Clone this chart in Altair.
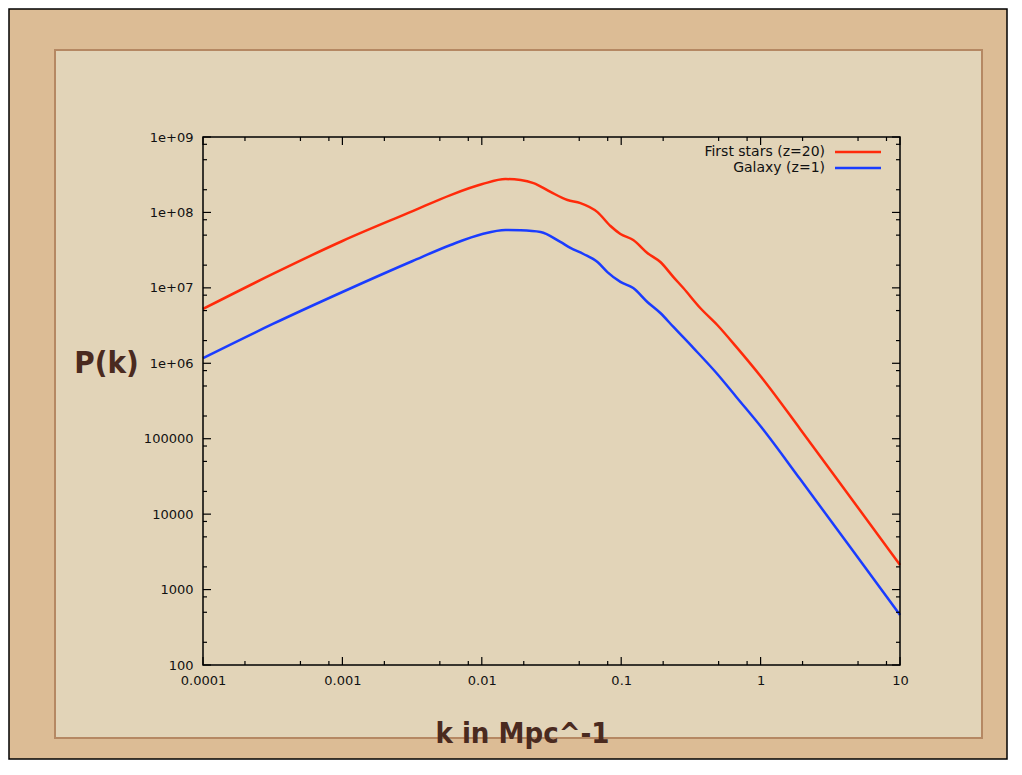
import altair as alt
import pandas as pd

series = ["First stars (z=20)", "Galaxy (z=1)"]
colors = ["#ff2a0a", "#1a3cff"]

red_k = [1e-4, 3.17e-4, 1e-3, 3.19e-3, 5.97e-3, 1.01e-2, 1.48e-2, 1.90e-2, 2.35e-2,
         3.11e-2, 4.12e-2, 5.10e-2, 6.76e-2, 8.38e-2, 9.87e-2, 0.122, 0.154, 0.191,
         0.237, 0.279, 0.369, 0.489, 0.679, 1.01, 1.92, 4.39, 10]
red_p = [5.25e6, 1.53e7, 4.18e7, 1.04e8, 1.70e8, 2.38e8, 2.77e8, 2.69e8, 2.45e8,
         1.87e8, 1.46e8, 1.33e8, 1.01e8, 6.6e7, 5.18e7, 4.31e7, 2.90e7, 2.20e7,
         1.39e7, 9.95e6, 5.41e6, 3.22e6, 1.60e6, 6.58e5, 1.35e5, 1.69e4, 2.12e3]

blue_k = [1e-4, 3.17e-4, 1e-3, 3.19e-3, 5.97e-3, 1.01e-2, 1.48e-2, 1.90e-2, 2.64e-2,
          3.66e-2, 4.32e-2, 5.36e-2, 6.76e-2, 7.96e-2, 9.87e-2, 0.122, 0.154, 0.191,
          0.237, 0.329, 0.489, 0.679, 1.01, 1.92, 4.39, 10]
blue_p = [1.17e6, 3.32e6, 8.81e6, 2.27e7, 3.70e7, 5.18e7, 5.85e7, 5.8e7, 5.51e7,
          4.06e7, 3.38e7, 2.81e7, 2.20e7, 1.62e7, 1.20e7, 9.95e6, 6.50e6, 4.64e6,
          3.03e6, 1.60e6, 7.21e5, 3.47e5, 1.43e5, 2.92e4, 3.66e3, 460]

x_ticks = [1e-4, 1e-3, 1e-2, 1e-1, 1, 10]
x_tick_labels = ["0.0001", "0.001", "0.01", "0.1", "1", "10"]
y_ticks = [1e2, 1e3, 1e4, 1e5, 1e6, 1e7, 1e8, 1e9]
y_tick_labels = ["100", "1000", "10000", "100000", "1e+06", "1e+07", "1e+08", "1e+09"]
minor_mult = [2, 5, 8]
x_minor = [m * 10.0 ** e for e in range(-4, 1) for m in minor_mult]
y_minor = [m * 10.0 ** e for e in range(2, 9) for m in minor_mult]

W, H = 697, 528
PAD = {"left": 195, "top": 129, "right": 108, "bottom": 95}

df = pd.concat([
    pd.DataFrame({"k": red_k, "P": red_p, "series": series[0]}),
    pd.DataFrame({"k": blue_k, "P": blue_p, "series": series[1]}),
])

xscale = alt.Scale(type="log", domain=[1e-4, 10], nice=False)
yscale = alt.Scale(type="log", domain=[100, 1e9], nice=False)

xlab_expr = "[" + ",".join("'%s'" % s for s in x_tick_labels) + "][round(log(datum.value)/LN10)+4]"
ylab_expr = "[" + ",".join("'%s'" % s for s in y_tick_labels) + "][round(log(datum.value)/LN10)-2]"

title_font = "DejaVu Sans Condensed, sans-serif"
brown = "#4a2a1f"

xaxis = alt.Axis(values=x_ticks, labelExpr=xlab_expr, ticks=False, domain=False, grid=False,
                 labelFont="DejaVu Sans", labelFontSize=13, labelColor="#111111",
                 labelPadding=9, labelFlush=False, labelOverlap=False, zindex=2,
                 title="k in Mpc^-1", titleFont=title_font, titleFontSize=29,
                 titleFontWeight="bold", titleColor=brown, titleX=319, titleY=77,
                 titleAlign="center", titleBaseline="alphabetic")
yaxis = alt.Axis(values=y_ticks, labelExpr=ylab_expr, ticks=False, domain=False, grid=False,
                 labelFont="DejaVu Sans", labelFontSize=13, labelColor="#111111",
                 labelPadding=10, labelFlush=False, labelOverlap=False, zindex=2,
                 title="P(k)", titleFont=title_font, titleFontSize=31,
                 titleFontWeight="bold", titleColor=brown, titleAngle=0,
                 titleX=-97, titleY=226, titleAlign="center", titleBaseline="middle")

dummy = alt.Data(values=[{}])

outer = alt.Chart(dummy).mark_rect(fill="#dcbc95", stroke="#000000", strokeWidth=1.5).encode(
    x=alt.value(-194), x2=alt.value(804), y=alt.value(-128), y2=alt.value(622))
paper = alt.Chart(dummy).mark_rect(fill="#e2d4b8", stroke="#b58863", strokeWidth=2).encode(
    x=alt.value(-148), x2=alt.value(779), y=alt.value(-87), y2=alt.value(601))
frame = alt.Chart(dummy).mark_rect(fill="transparent", stroke="#000000", strokeWidth=1.5).encode(
    x=alt.value(0), x2=alt.value(W), y=alt.value(0), y2=alt.value(H))

lines = alt.Chart(df).mark_line(strokeWidth=2.5, interpolate="monotone").encode(
    x=alt.X("k:Q", scale=xscale, axis=xaxis),
    y=alt.Y("P:Q", scale=yscale, axis=yaxis),
    color=alt.Color("series:N", scale=alt.Scale(domain=series, range=colors), legend=None),
)

def xticks(vals, length):
    d = pd.DataFrame({"k": vals})
    bot = alt.Chart(d).mark_rule(color="black", strokeWidth=1.2).encode(
        x=alt.X("k:Q", scale=xscale, axis=xaxis), y=alt.value(H), y2=alt.value(H - length))
    top = alt.Chart(d).mark_rule(color="black", strokeWidth=1.2).encode(
        x=alt.X("k:Q", scale=xscale, axis=xaxis), y=alt.value(0), y2=alt.value(length))
    return [bot, top]

def yticks(vals, length):
    d = pd.DataFrame({"P": vals})
    left = alt.Chart(d).mark_rule(color="black", strokeWidth=1.2).encode(
        y=alt.Y("P:Q", scale=yscale, axis=yaxis), x=alt.value(0), x2=alt.value(length))
    right = alt.Chart(d).mark_rule(color="black", strokeWidth=1.2).encode(
        y=alt.Y("P:Q", scale=yscale, axis=yaxis), x=alt.value(W), x2=alt.value(W - length))
    return [left, right]

tick_layers = xticks(x_ticks, 8) + xticks(x_minor, 4) + yticks(y_ticks, 8) + yticks(y_minor, 4)

legend_layers = []
for i, (name, col) in enumerate(zip(series, colors)):
    yy = 15 + 16 * i
    legend_layers.append(alt.Chart(dummy).mark_text(
        align="right", baseline="middle", font="DejaVu Sans", fontSize=14, color="#111111").encode(
        x=alt.value(622), y=alt.value(yy), text=alt.value(name)))
    legend_layers.append(alt.Chart(dummy).mark_rule(color=col, strokeWidth=2.5).encode(
        x=alt.value(632), x2=alt.value(678), y=alt.value(yy)))

chart = alt.layer(outer, paper, lines, *tick_layers, frame, *legend_layers).properties(
    width=W, height=H, padding=PAD, autosize=alt.AutoSizeParams(type="none"),
    background="#ffffff",
).configure_view(stroke=None)

chart.save("out.html", embed_options={"renderer": "svg", "actions": False})
